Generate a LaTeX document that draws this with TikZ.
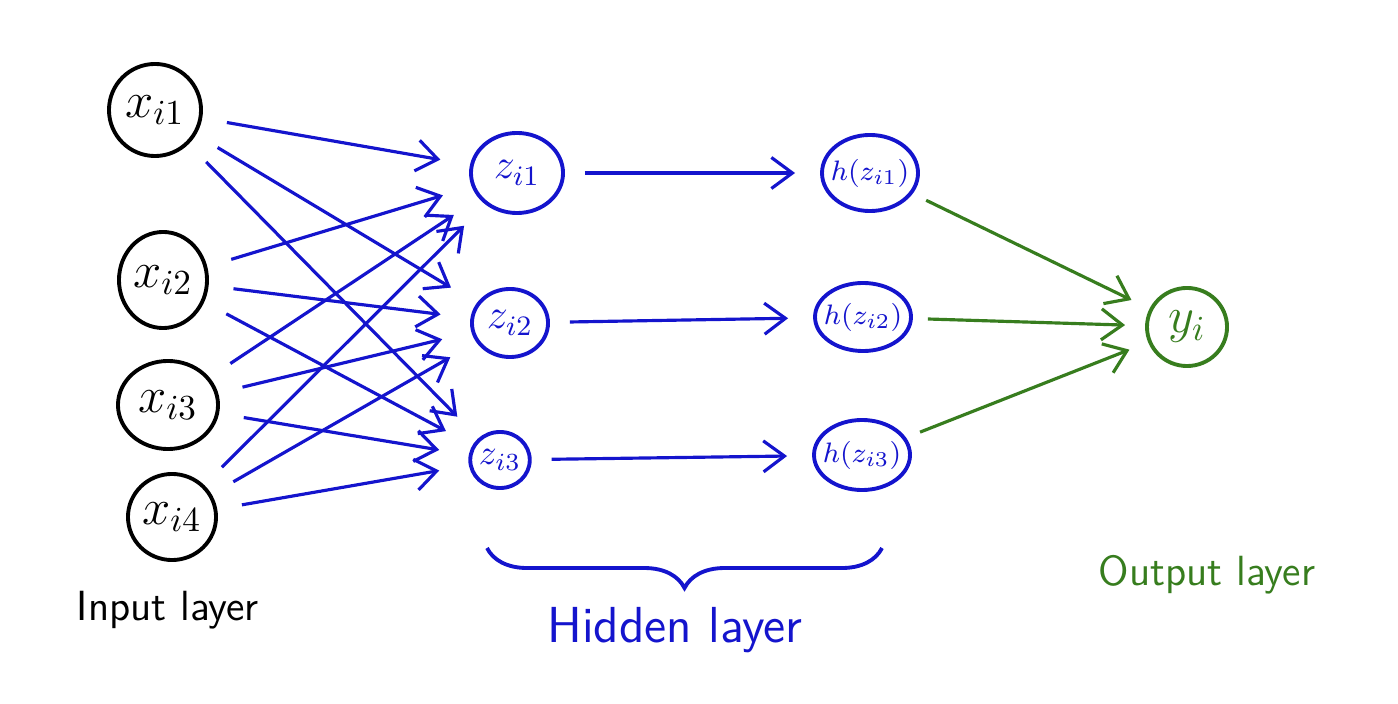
\documentclass[tikz,border=0pt]{standalone}
\usetikzlibrary{arrows.meta,shapes.geometric,decorations.pathreplacing}
\definecolor{penblue}{RGB}{20,20,205}
\definecolor{pengreen}{RGB}{55,125,30}

\tikzset{
    unit/.style={draw, ellipse, line width=1.1pt, inner sep=0pt},
    wire/.style={line width=0.9pt, shorten <=0.25cm, shorten >=0.3cm,
        -{Straight Barb[length=2.1mm, width=3.1mm]}},
    layername/.style={font=\sffamily\Large},
}

\begin{document}
\begin{tikzpicture}[x=0.01cm, y=-0.01cm]
    \useasboundingbox (0,0) rectangle (1398,704);

    % input layer
    \node[unit, minimum width=0.92cm, minimum height=0.92cm, font=\Large] (x1) at (155,110) {$x_{i1}$};
    \node[unit, minimum width=0.88cm, minimum height=0.96cm, font=\Large] (x2) at (163,280) {$x_{i2}$};
    \node[unit, minimum width=1.00cm, minimum height=0.88cm, font=\Large] (x3) at (168,405) {$x_{i3}$};
    \node[unit, minimum width=0.88cm, minimum height=0.86cm, font=\Large] (x4) at (172,517) {$x_{i4}$};

    % hidden layer
    \begin{scope}[penblue]
        \node[unit, minimum width=0.92cm, minimum height=0.80cm, font=\large] (z1) at (517,173) {$z_{i1}$};
        \node[unit, minimum width=0.76cm, minimum height=0.68cm, font=\large] (z2) at (510,323) {$z_{i2}$};
        \node[unit, minimum width=0.58cm, minimum height=0.56cm] (z3) at (500,460) {$z_{i3}$};
        \node[unit, inner sep=-1.5pt, minimum width=0.90cm, minimum height=0.76cm, font=\footnotesize] (h1) at (870,173) {$h(z_{i1})$};
        \node[unit, inner sep=-1.5pt, minimum width=0.84cm, minimum height=0.68cm, font=\footnotesize] (h2) at (863,317) {$h(z_{i2})$};
        \node[unit, inner sep=-1.5pt, minimum width=0.84cm, minimum height=0.70cm, font=\footnotesize] (h3) at (862,455) {$h(z_{i3})$};
    \end{scope}

    % output layer
    \node[unit, pengreen, minimum width=0.80cm, minimum height=0.78cm, font=\Large] (y) at (1187,327) {$y_i$};

    % connections
    \foreach \i in {1,...,4}
        \foreach \j in {1,2,3}
            \draw[wire, penblue] (x\i) -- (z\j);
    \foreach \j in {1,2,3}
        \draw[wire, penblue, shorten <=0.2cm, shorten >=0.25cm] (z\j) -- (h\j);
    \foreach \j in {1,2,3}
        \draw[wire, pengreen, shorten <=0.15cm, shorten >=0.2cm] (h\j) -- (y);

    % labels
    \coordinate (bl) at (487,548);
    \coordinate (br) at (882,548);
    \draw[penblue, line width=1.1pt, decorate,
        decoration={brace, mirror, amplitude=0.4cm}] (bl) -- (br);
    \node[layername, font=\sffamily\large] (inlab) at (168,610) {Input layer};
    \node[layername, penblue] (hidlab) at (675,630) {Hidden layer};
    \node[layername, pengreen, font=\sffamily\large] (outlab) at (1207,575) {Output layer};
\end{tikzpicture}
\end{document}
